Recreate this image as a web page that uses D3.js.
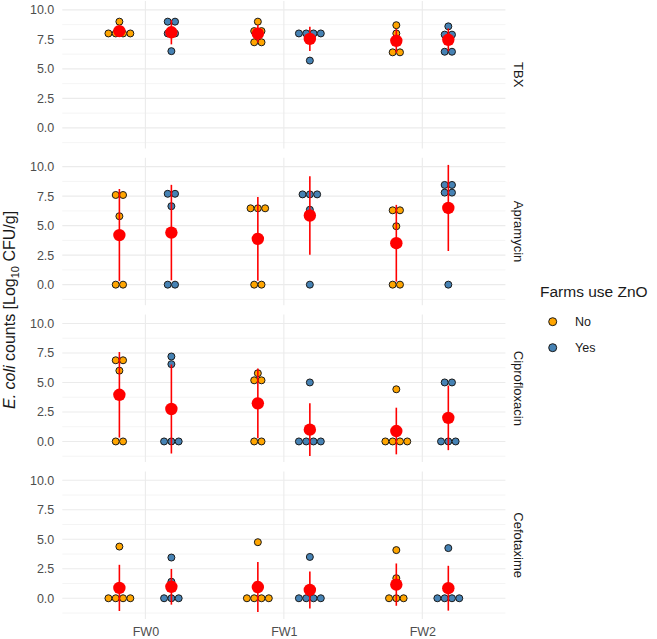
<!DOCTYPE html>
<html>
<head>
<meta charset="utf-8">
<script src="https://cdn.jsdelivr.net/npm/d3@7"></script>
<style>
  html, body { margin: 0; padding: 0; background: #fff; }
  svg { display: block; font-family: "Liberation Sans", Arial, sans-serif; }
</style>
</head>
<body>
<svg id="chart" width="657" height="639"></svg>
<script>
// ---------- data ----------
const timepoints = ["FW0", "FW1", "FW2"];
const znoGroups = ["No", "Yes"];
const antibiotics = ["TBX", "Apramycin", "Ciprofloxacin", "Cefotaxime"];
const yTicks = [0, 2.5, 5, 7.5, 10];

// values per timepoint (FW0, FW1, FW2), Log10 CFU/g
const tbxNo   = [[9.0, 8.0, 8.0, 8.0, 8.0], [9.0, 8.2, 8.2, 7.25, 7.25], [8.7, 8.0, 7.4, 6.4, 6.4]];
const tbxYes  = [[9.0, 9.0, 8.0, 8.0, 6.5], [8.0, 8.0, 8.0, 8.0, 5.7], [8.6, 7.9, 7.9, 6.45, 6.45]];
const aprNo   = [[7.6, 7.6, 5.8, 0, 0], [6.47, 6.47, 6.47, 0, 0], [6.3, 6.3, 4.95, 0, 0]];
const aprYes  = [[7.7, 7.7, 6.65, 0, 0], [7.65, 7.65, 7.65, 6.35, 0], [8.45, 8.45, 7.8, 7.8, 0]];
const cipNo   = [[6.88, 6.88, 6.0, 0, 0], [5.78, 5.18, 5.18, 0, 0], [4.42, 0, 0, 0, 0]];
const cipYes  = [[7.2, 6.55, 0, 0, 0], [5.0, 0, 0, 0, 0], [5.0, 5.0, 0, 0, 0]];
const cefNo   = [[4.38, 0, 0, 0, 0], [4.75, 0, 0, 0, 0], [4.08, 1.7, 0, 0, 0]];
const cefYes  = [[3.45, 1.4, 0, 0, 0], [3.5, 0, 0, 0, 0], [4.25, 0, 0, 0, 0]];

const seriesByAntibiotic = {
  "TBX": { No: tbxNo, Yes: tbxYes },
  "Apramycin": { No: aprNo, Yes: aprYes },
  "Ciprofloxacin": { No: cipNo, Yes: cipYes },
  "Cefotaxime": { No: cefNo, Yes: cefYes }
};

// ---------- layout ----------
const svg = d3.select("#chart");
const panelLeft = 62.3, panelRight = 505.4;
const panelTop0 = 1, panelH = 147.5, panelStep = 156.8;
const yDomain = [-1.75, 10.75];
const colors = { No: "#FFA500", Yes: "#4682B4" };
const gridCol = "#EBEBEB";
const dotR = 3.5, dotStep = 7.3;
const tickFont = "12.5px";

const x = d3.scalePoint().domain(timepoints).range([panelLeft, panelRight]).padding(0.6);
const dodge = d3.scalePoint().domain(znoGroups).range([-26, 26]);

antibiotics.forEach((ab, i) => {
  const top = panelTop0 + i * panelStep;
  const bottom = top + panelH;
  const y = d3.scaleLinear().domain(yDomain).range([bottom, top]);
  const g = svg.append("g");

  // minor grid
  const minor = [-1.25, 1.25, 3.75, 6.25, 8.75];
  g.selectAll(".minor").data(minor).join("line")
    .attr("x1", panelLeft).attr("x2", panelRight)
    .attr("y1", d => y(d)).attr("y2", d => y(d))
    .attr("stroke", gridCol).attr("stroke-width", 0.55);
  // major grid
  g.selectAll(".major").data(yTicks).join("line")
    .attr("x1", panelLeft).attr("x2", panelRight)
    .attr("y1", d => y(d)).attr("y2", d => y(d))
    .attr("stroke", gridCol).attr("stroke-width", 1.1);
  g.selectAll(".vmajor").data(timepoints).join("line")
    .attr("x1", d => x(d)).attr("x2", d => x(d))
    .attr("y1", top).attr("y2", bottom)
    .attr("stroke", gridCol).attr("stroke-width", 1.1);

  // y axis
  const ya = g.append("g").attr("transform", `translate(${panelLeft},0)`)
    .call(d3.axisLeft(y).tickValues(yTicks).tickFormat(d3.format(".1f")).tickSize(0).tickPadding(8));
  ya.select(".domain").remove();
  ya.selectAll("text").attr("fill", "#4D4D4D").style("font-size", tickFont)
    .style("font-family", "'Liberation Sans', Arial, sans-serif");

  // strip label
  g.append("text")
    .attr("transform", `translate(519,${(top + bottom) / 2}) rotate(90)`)
    .attr("text-anchor", "middle").attr("dy", "0.35em")
    .attr("fill", "#1A1A1A").style("font-size", "13px")
    .text(ab);

  // dots + summary
  const series = seriesByAntibiotic[ab];
  znoGroups.forEach(grp => {
    timepoints.forEach((tp, j) => {
      const vals = series[grp][j];
      const cx = x(tp) + dodge(grp);
      const bins = d3.groups(vals, v => v);
      const dots = [];
      bins.forEach(([v, arr]) => {
        const n = arr.length;
        arr.forEach((_, k) => dots.push({ v, off: (k - (n - 1) / 2) * dotStep }));
      });
      g.append("g").selectAll("circle").data(dots).join("circle")
        .attr("cx", d => cx + d.off).attr("cy", d => y(d.v)).attr("r", dotR)
        .attr("fill", colors[grp]).attr("stroke", "#1a1a1a").attr("stroke-width", 1);

      const m = d3.mean(vals), sd = d3.deviation(vals);
      g.append("line")
        .attr("x1", cx).attr("x2", cx)
        .attr("y1", y(m - sd)).attr("y2", y(m + sd))
        .attr("stroke", "#FF0000").attr("stroke-width", 1.6);
      g.append("circle")
        .attr("cx", cx).attr("cy", y(m)).attr("r", 6.2)
        .attr("fill", "#FF0000");
    });
  });

  // x axis on last panel
  if (i === antibiotics.length - 1) {
    const xa = g.append("g").attr("transform", `translate(0,${bottom})`)
      .call(d3.axisBottom(x).tickSize(0).tickPadding(8));
    xa.select(".domain").remove();
    xa.selectAll("text").attr("fill", "#4D4D4D").style("font-size", tickFont)
      .style("font-family", "'Liberation Sans', Arial, sans-serif");
  }
});

// y-axis title
const yt = svg.append("text")
  .attr("transform", `translate(15,${(panelTop0 + panelTop0 + 3 * panelStep + panelH) / 2}) rotate(-90)`)
  .attr("text-anchor", "middle").attr("fill", "#1A1A1A").style("font-size", "16px");
yt.append("tspan").attr("font-style", "italic").text("E. coli");
yt.append("tspan").text(" counts [Log");
yt.append("tspan").attr("dy", 4).style("font-size", "11px").text("10");
yt.append("tspan").attr("dy", -4).text(" CFU/g]");

// legend
const lg = svg.append("g");
lg.append("text").attr("x", 540).attr("y", 297).attr("fill", "#1A1A1A")
  .style("font-size", "15.5px").text("Farms use ZnO");
znoGroups.forEach((grp, k) => {
  const cy = 321.7 + k * 26;
  lg.append("circle").attr("cx", 552.7).attr("cy", cy).attr("r", 4.0)
    .attr("fill", colors[grp]).attr("stroke", "#1a1a1a").attr("stroke-width", 1);
  lg.append("text").attr("x", 575).attr("y", cy).attr("dy", "0.35em")
    .attr("fill", "#1A1A1A").style("font-size", "12.5px").text(grp);
});
</script>
</body>
</html>
